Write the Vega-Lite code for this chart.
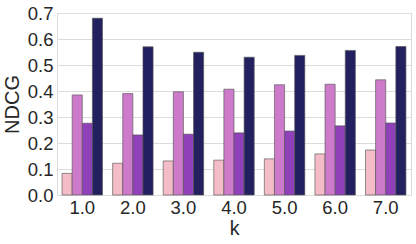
{
  "$schema": "https://vega.github.io/schema/vega-lite/v6.json",
  "width": 354,
  "height": 182,
  "autosize": {"type": "none"},
  "padding": {"left": 57, "top": 13, "right": 5, "bottom": 49},
  "background": "white",
  "config": {
    "view": {"stroke": "#dcdcdc", "strokeWidth": 1},
    "font": "Liberation Sans"
  },
  "data": {
    "values": [
      {"k": "1.0", "s": "a", "v": 0.083}, {"k": "1.0", "s": "b", "v": 0.385}, {"k": "1.0", "s": "c", "v": 0.276}, {"k": "1.0", "s": "d", "v": 0.680},
      {"k": "2.0", "s": "a", "v": 0.122}, {"k": "2.0", "s": "b", "v": 0.390}, {"k": "2.0", "s": "c", "v": 0.231}, {"k": "2.0", "s": "d", "v": 0.570},
      {"k": "3.0", "s": "a", "v": 0.131}, {"k": "3.0", "s": "b", "v": 0.397}, {"k": "3.0", "s": "c", "v": 0.234}, {"k": "3.0", "s": "d", "v": 0.549},
      {"k": "4.0", "s": "a", "v": 0.134}, {"k": "4.0", "s": "b", "v": 0.407}, {"k": "4.0", "s": "c", "v": 0.239}, {"k": "4.0", "s": "d", "v": 0.530},
      {"k": "5.0", "s": "a", "v": 0.139}, {"k": "5.0", "s": "b", "v": 0.424}, {"k": "5.0", "s": "c", "v": 0.246}, {"k": "5.0", "s": "d", "v": 0.537},
      {"k": "6.0", "s": "a", "v": 0.158}, {"k": "6.0", "s": "b", "v": 0.426}, {"k": "6.0", "s": "c", "v": 0.266}, {"k": "6.0", "s": "d", "v": 0.556},
      {"k": "7.0", "s": "a", "v": 0.173}, {"k": "7.0", "s": "b", "v": 0.443}, {"k": "7.0", "s": "c", "v": 0.277}, {"k": "7.0", "s": "d", "v": 0.571}
    ]
  },
  "mark": {"type": "bar", "stroke": "#555555", "strokeWidth": 0.8, "strokeOpacity": 0.8},
  "encoding": {
    "x": {
      "field": "k", "type": "nominal",
      "scale": {"paddingInner": 0.2, "paddingOuter": 0.1},
      "axis": {
        "title": "k", "labelAngle": 0, "labelFontSize": 18.5, "titleFontSize": 19.5,
        "labelColor": "#262626", "titleColor": "#262626", "titleFontWeight": "normal",
        "ticks": false, "domain": false, "grid": false, "labelPadding": 3, "titlePadding": 3
      }
    },
    "xOffset": {"field": "s", "type": "nominal", "scale": {"paddingInner": 0, "paddingOuter": 0}},
    "y": {
      "field": "v", "type": "quantitative",
      "scale": {"domain": [0, 0.7], "nice": false},
      "axis": {
        "title": "NDCG", "values": [0, 0.1, 0.2, 0.3, 0.4, 0.5, 0.6, 0.7], "format": ".1f",
        "labelFontSize": 18.5, "titleFontSize": 20, "labelColor": "#262626", "titleColor": "#262626",
        "titleFontWeight": "normal", "ticks": false, "domain": false, "grid": true,
        "gridColor": "#dcdcdc", "gridWidth": 1, "labelPadding": 4, "titlePadding": 5
      }
    },
    "color": {
      "field": "s", "type": "nominal", "legend": null,
      "scale": {"domain": ["a", "b", "c", "d"], "range": ["#f4bcc6", "#cc7ac9", "#9040b8", "#232060"]}
    }
  }
}
